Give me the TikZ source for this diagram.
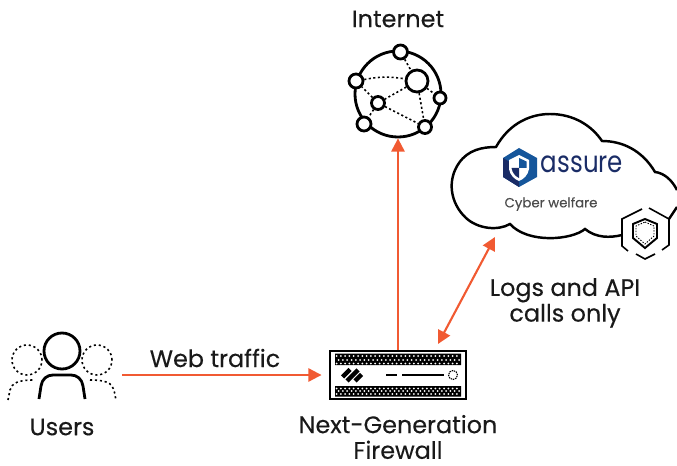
\documentclass[tikz,border=0pt]{standalone}
\usepackage{fontspec}
\setmainfont[FakeBold=0.25]{Poppins}
\newfontfamily\plainfont{Poppins}
\usetikzlibrary{arrows.meta}
\definecolor{arrowred}{HTML}{F15A32}
\definecolor{logoblue}{HTML}{15569B}
\definecolor{logonavy}{HTML}{1A2C66}
\tikzset{
	label/.style={font=\fontsize{13.6}{14.6}\selectfont,align=center,text=black!90},
	link/.style={draw=arrowred,line width=1.2,-{Triangle[length=7.5pt,width=7.5pt]}},
	netnode/.style={circle,draw,fill=white,line width=1.6,inner sep=0,minimum size=#1*0.02cm},
	netlink/.style={dash pattern=on 1.2pt off 1.4pt,line width=.9},
	ghost/.style={dash pattern=on 1.2pt off 1.6pt,line width=.9},
}
\begin{document}
\begin{tikzpicture}[x=0.02cm,y=-0.02cm]
	\useasboundingbox (0,0) rectangle (677,466);
	% texts
	\node[label] (inet) at (398,19) {Internet};
	\node[label] (traffic) at (215,358) {Web traffic};
	\node[label] (users) at (62,427) {Users};
	\node[label] (ngfw) at (398,437) {Next-Generation\\Firewall};
	\node[label] (logs) at (565,303) {Logs and API\\calls only};
	% internet globe
	\node[netnode=86,fill=none] (globe) at (398,94) {};
	\foreach \p/\s/\x/\y in {a/14/400.5/52,b/14/356/81,c/22/417/81,d/12/440/98,e/13/378/103,f/14/364/124,g/13/425/127}
	\node[netnode=\s] (n\p) at (\x,\y) {};
	\draw[netlink] (na)--(nc) (nc)--(nd) (nc)--(ng) (nc)--(ne) (ne)--(nb) (ne)--(nf) (ne)--(ng);
	\draw[netlink] (nb) to[bend left=10] (nc);
	% cloud
	\draw[line width=1.4] (622,235) .. controls (610,238) and (596,238) .. (585,229)
		.. controls (572,240) and (528,244) .. (510,224)
		.. controls (498,231) and (478,229) .. (466,218)
		.. controls (450,203) and (447,180) .. (459,163)
		.. controls (468,150) and (482,147) .. (496,147)
		.. controls (510,122) and (532,114) .. (550,114)
		.. controls (574,114) and (592,126) .. (602,141)
		.. controls (622,141) and (642,150) .. (655,172)
		.. controls (664,173) and (672,180) .. (677,190);
	\draw[line width=1.4] (677,207)--(669,219);
	\node[font=\plainfont\fontsize{17}{18}\selectfont,text=logonavy] (assure) at (582,164) {\scalebox{.82}[1]{assure}};
	\node[font=\fontsize{7.6}{8}\selectfont,text=black!70] (welfare) at (551,204) {Cyber welfare};
	% logo
	\fill[logoblue] (519,148)--(537,158)--(537,177)--(519,187)--(503,177)--(503,158)--cycle;
	\fill[logonavy] (519,187)--(503,177)--(503,158)--(510,162)--(510,172)--(519,182)--cycle;
	\fill[white] (509,160)--(519,155)--(529,160)--(529,169) .. controls (528,175) and (524,179) .. (519,181) .. controls (514,179) and (510,175) .. (509,169)--cycle;
	\fill[logoblue] (519,158)--(526.5,161.5)--(526.5,168)--(519,168)--cycle;
	\fill[logonavy] (519,168)--(511.5,168) .. controls (512.5,173) and (515,176) .. (519,178)--cycle;
	% small hexagon
	\draw[line width=.9] (642,209)--(622,219)--(622,246)--(628,251) (636,254)--(645,259)--(655,254) (662,250)--(669,245)--(669,219)--(649,208);
	\draw[line width=1.1] (645,219)--(657,224)--(657,238)--(645,248)--(633,238)--(633,224)--cycle;
	\draw[dash pattern=on .8pt off .8pt,line width=.5] (645,222)--(654,226)--(654,236)--(645,244)--(636,236)--(636,226)--cycle;
	% firewall
	\node[draw,line width=1.6,minimum width=136*0.02cm,minimum height=48*0.02cm,inner sep=0] (fw) at (398,375) {};
	\fill (335,353.5) rectangle (461,365) (335,386) rectangle (461,396.5);
	\foreach \x in {0,...,28}{
		\foreach \y in {356,363.5,388.5,394}
		\fill[white] (336.5+\x*4.3,\y) circle[radius=1];
		\foreach \y in {360,391}
		\fill[white] (338.6+\x*4.3,\y) circle[radius=1];
	}
	\draw[line width=2.6] (342.5,377)--(350,369.5) (347,381)--(358,370) (355,381)--(361.5,374.5);
	\draw[line width=1.2] (386,375)--(397,375) (402,375)--(444,375);
	\node[circle,draw,dash pattern=on .8pt off .5pt,line width=.6,inner sep=0,minimum size=9*0.02cm] (led) at (453,375) {};
	% users
	\node[netnode=36,fill=none] (user) at (62,351) {};
	\draw[line width=1.6] (39,399)--(41,386) .. controls (42,379) and (47,375) .. (53,375)--(71,375) .. controls (77,375) and (82,379) .. (83,386)--(85,399);
	\node[circle,draw,ghost,inner sep=0,minimum size=30*0.02cm] (userl) at (27,360) {};
	\node[circle,draw,ghost,inner sep=0,minimum size=30*0.02cm] (userr) at (97,360) {};
	\draw[ghost] (8,400)--(10,390) .. controls (12,383) and (18,380) .. (34,380);
	\draw[ghost] (90,380) .. controls (106,380) and (112,383) .. (114,390)--(116,400);
	% arrows
	\coordinate (trafficstart) at (122,375);
	\coordinate (fwlog) at (438,344);
	\coordinate (cloudlog) at (495,237);
	\draw[link,shorten >=4] (trafficstart)--(fw.west);
	\draw[link] (fw.north)--(globe.south);
	\draw[link,{Triangle[length=7.5pt,width=7.5pt]}-{Triangle[length=7.5pt,width=7.5pt]}] (fwlog)--(cloudlog);
\end{tikzpicture}
\end{document}
